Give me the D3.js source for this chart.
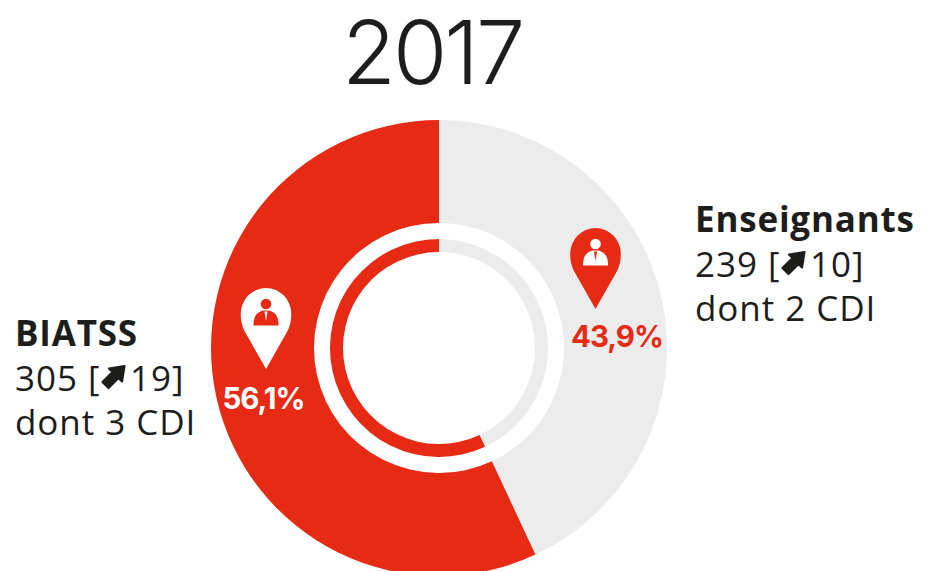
<!DOCTYPE html>
<html><head><meta charset="utf-8">
<style>html,body{margin:0;padding:0;background:#fff}svg{display:block}</style>
<script src="https://cdn.jsdelivr.net/npm/d3@7/dist/d3.min.js"></script>
</head><body><div id="c"></div>
<script>
const title = "2017";
const categories = ["Enseignants", "BIATSS"];
const drawnShares = [43.05, 56.95];
const shareLabels = ["43,9%", "56,1%"];
const counts = ["239", "305"];
const increases = ["10", "19"];
const cdiLines = ["dont 2 CDI", "dont 3 CDI"];
const colors = ["#ececec", "#e62a13"];
const ringColors = ["#ececec", "#e62a13"];

const W = 927, H = 571, cx = 439, cy = 348;
const ink = "#1d1d1b", font = "'Open Sans', 'Noto Sans', sans-serif";
const svg = d3.select("#c").append("svg").attr("width", W).attr("height", H).attr("viewBox", `0 0 ${W} ${H}`);
const pie = d3.pie().sort(null).value(d => d);
const arcs = pie(drawnShares);
const g = svg.append("g").attr("transform", `translate(${cx},${cy})`);
const outer = d3.arc().innerRadius(125).outerRadius(228);
const inner = d3.arc().innerRadius(96).outerRadius(109);
g.selectAll("path.o").data(arcs).join("path").attr("class", "o").attr("d", outer).attr("fill", (d, i) => colors[i]);
g.selectAll("path.i").data(arcs).join("path").attr("class", "i").attr("d", inner).attr("fill", (d, i) => ringColors[i]);

svg.append("text").attr("x", 432).attr("y", 84).attr("text-anchor", "middle")
  .attr("font-family", "Inter, sans-serif").attr("font-weight", 350).attr("font-size", 88).attr("letter-spacing", -3)
  .attr("fill", ink).text(title);

// pin markers: (x = centre, y = tip)
const pinPath = "M0,0 L-21.5,-38 C-24,-43 -25.3,-48 -25.3,-55 A25.3,26 0 0 1 25.3,-55 C25.3,-48 24,-43 21.5,-38 Z";
function pin(x, y, fill, fg) {
  const p = svg.append("g").attr("transform", `translate(${x},${y})`);
  p.append("path").attr("d", pinPath).attr("fill", fill);
  p.append("circle").attr("cx", 0).attr("cy", -65).attr("r", 5.3).attr("fill", fg);
  p.append("path").attr("d", "M-12.5,-43.5 C-12.5,-51 -11,-56 -3,-58.5 L3,-58.5 C11,-56 12.5,-51 12.5,-43.5 Z").attr("fill", fg);
  p.append("path").attr("d", "M-1.5,-57.5 L1.5,-57.5 L0,-48 Z").attr("fill", fill);
}
pin(595.5, 309, colors[1], "#fff");
pin(266, 369, "#fff", colors[1]);

function pct(x, y, t, fill) {
  svg.append("text").attr("x", x).attr("y", y).attr("text-anchor", "middle")
    .attr("font-family", "Inter, sans-serif").attr("font-weight", 700).attr("font-size", 29.5).attr("letter-spacing", -1)
    .attr("fill", fill).text(t);
}
pct(617, 347, shareLabels[0], colors[1]);
pct(263.5, 409, shareLabels[1], "#fff");

function legend(x, y, i, arrowX, numX) {
  const t = (tx, dy, s, w) => svg.append("text").attr("x", tx).attr("y", y + dy).attr("font-family", font)
    .attr("font-weight", w).attr("font-size", 35).attr("letter-spacing", w === 700 ? 0.8 : 0.95).attr("fill", ink).text(s);
  t(x, 0, categories[i], 700);
  t(x, 45, `${counts[i]} [`, 400);
  svg.append("path").attr("transform", `translate(${arrowX},${y + 31})`)
    .attr("d", "M12,-11 L9.5,4.5 L6,1 L-4,11 L-10,5 L0,-5 L-3.5,-8.5 Z")
    .attr("fill", ink).attr("stroke", ink).attr("stroke-width", 2.2).attr("stroke-linejoin", "round");
  t(numX, 45, `${increases[i]}]`, 400);
  t(x, 89, cdiLines[i], 400);
}
legend(695, 232, 0, 792.5, 810);
legend(15, 346, 1, 112.5, 130);
</script></body></html>
